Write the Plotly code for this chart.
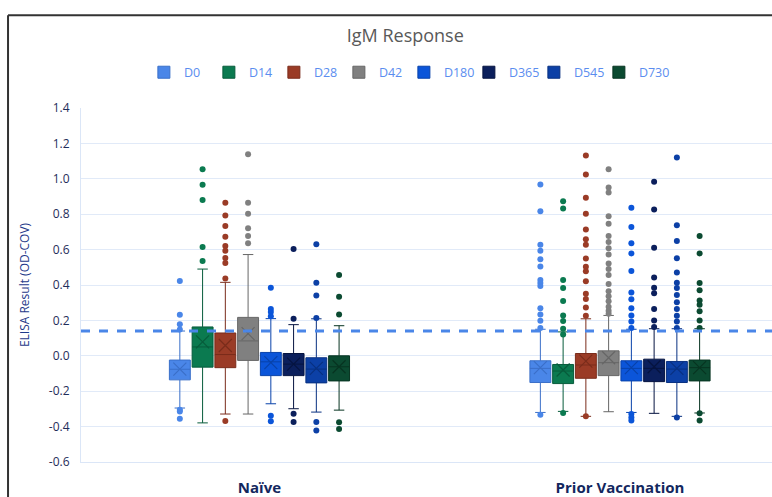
import plotly.graph_objects as go

categories = ["Naïve", "Prior Vaccination"]
series = ["D0", "D14", "D28", "D42", "D180", "D365", "D545", "D730"]
colors = ["#4a86e8", "#0b7a50", "#9a3b26", "#808080", "#0b55d9", "#0b1f5c", "#0c40a6", "#0b4a31"]
dark = ["#3a6fc8", "#075c3b", "#7a2c1b", "#666666", "#0842aa", "#061440", "#083080", "#073421"]

# per series: [Naive, Prior]
q1 = {"D0": [-0.136, -0.151], "D14": [-0.064, -0.157], "D28": [-0.067, -0.127], "D42": [-0.026, -0.112],
      "D180": [-0.112, -0.142], "D365": [-0.112, -0.146], "D545": [-0.153, -0.151], "D730": [-0.142, -0.142]}
med = {"D0": [-0.076, -0.071], "D14": [0.05, -0.086], "D28": [0.007, -0.052], "D42": [0.084, -0.039],
       "D180": [-0.034, -0.071], "D365": [-0.047, -0.071], "D545": [-0.075, -0.075], "D730": [-0.062, -0.067]}
q3 = {"D0": [-0.024, -0.028], "D14": [0.163, -0.049], "D28": [0.129, 0.013], "D42": [0.217, 0.028],
      "D180": [0.019, -0.028], "D365": [0.013, -0.019], "D545": [-0.011, -0.032], "D730": [0.0, -0.024]}
mean = {"D0": [-0.075, -0.067], "D14": [0.079, -0.080], "D28": [0.058, -0.03], "D42": [0.125, -0.011],
        "D180": [-0.039, -0.067], "D365": [-0.047, -0.062], "D545": [-0.071, -0.071], "D730": [-0.062, -0.067]}
lo = {"D0": [-0.295, -0.32], "D14": [-0.379, -0.314], "D28": [-0.329, -0.342], "D42": [-0.329, -0.316],
      "D180": [-0.271, -0.32], "D365": [-0.299, -0.325], "D545": [-0.318, -0.342], "D730": [-0.307, -0.323]}
hi = {"D0": [0.14, 0.15], "D14": [0.49, 0.135], "D28": [0.415, 0.209], "D42": [0.572, 0.228],
      "D180": [0.21, 0.15], "D365": [0.176, 0.153], "D545": [0.209, 0.153], "D730": [0.17, 0.153]}
outliers = {
    "D0": [[0.422, 0.232, 0.178, 0.148, -0.305, -0.314, -0.355],
           [0.968, 0.817, 0.628, 0.593, 0.546, 0.505, 0.428, 0.411, 0.394, 0.269, 0.234, 0.198, 0.157, -0.333]],
    "D14": [[1.054, 0.966, 0.880, 0.615, 0.535],
            [0.873, 0.832, 0.428, 0.383, 0.31, 0.228, 0.196, 0.153, 0.121, -0.323]],
    "D28": [[0.864, 0.793, 0.733, 0.673, 0.621, 0.593, 0.553, 0.525, 0.437, -0.368],
            [1.131, 1.024, 0.893, 0.802, 0.714, 0.658, 0.628, 0.55, 0.503, 0.477, 0.421, 0.35, 0.321, 0.273, 0.226, -0.342]],
    "D42": [[1.138, 0.865, 0.802, 0.72, 0.677, 0.636],
            [1.054, 0.951, 0.923, 0.789, 0.746, 0.677, 0.643, 0.607, 0.572, 0.521, 0.49, 0.456, 0.406, 0.364, 0.336, 0.308, 0.277, 0.254, 0.237]],
    "D180": [[0.385, 0.265, 0.247, 0.224, -0.338, -0.37],
             [0.836, 0.727, 0.636, 0.578, 0.479, 0.357, 0.32, 0.269, 0.228, 0.194, 0.157, -0.329, -0.348, -0.366]],
    "D365": [[0.604, 0.209, -0.327, -0.374],
             [0.983, 0.826, 0.611, 0.443, 0.385, 0.353, 0.264, 0.2, 0.163]],
    "D545": [[0.630, 0.413, 0.34, 0.213, -0.374, -0.422],
             [1.121, 0.738, 0.649, 0.551, 0.471, 0.413, 0.383, 0.344, 0.303, 0.265, 0.226, 0.194, 0.157, -0.348]],
    "D730": [[0.456, 0.333, 0.234, -0.376, -0.413],
             [0.677, 0.578, 0.411, 0.37, 0.312, 0.288, 0.252, 0.2, 0.157, -0.325, -0.366]],
}
threshold = 0.14
ytick_vals = [1.4, 1.2, 1.0, 0.8, 0.6, 0.4, 0.2, 0.0, -0.2, -0.4, -0.6]
ytick_text = ["1.4", "1.2", "1.0", "0.8", "0.6", "0.4", "0.2", "0.0", "-0.2", "-0.4", "-0.6"]

slot = 0.0631
bw = 0.058
n = len(series)

fig = go.Figure()
for i, s in enumerate(series):
    xs = [c + (i - (n - 1) / 2) * slot for c in range(len(categories))]
    fig.add_trace(go.Box(
        x=xs, q1=q1[s], median=med[s], q3=q3[s], lowerfence=lo[s], upperfence=hi[s],
        width=bw, name=s, legendgroup=s, fillcolor=colors[i],
        line=dict(color=dark[i], width=1), whiskerwidth=0.5, boxpoints=False, hoverinfo="skip"))
    ox, oy = [], []
    for c in range(len(categories)):
        for v in outliers[s][c]:
            ox.append(xs[c]); oy.append(v)
    fig.add_trace(go.Scatter(x=ox, y=oy, mode="markers", legendgroup=s, showlegend=False,
                             marker=dict(color=colors[i], size=6), hoverinfo="skip"))
    fig.add_trace(go.Scatter(x=xs, y=mean[s], mode="markers", legendgroup=s, showlegend=False,
                             marker=dict(symbol="x-thin", size=13, line=dict(color=dark[i], width=1.2)),
                             hoverinfo="skip"))

# invisible spacer legend entry so the last label is not clipped
fig.add_trace(go.Scatter(x=[None], y=[None], mode="markers", name=" ", showlegend=True,
                         marker=dict(color="rgba(0,0,0,0)", size=1, line=dict(width=0)),
                         hoverinfo="skip"))

fig.add_shape(type="line", xref="paper", yref="y", x0=0, x1=1, y0=threshold, y1=threshold,
              line=dict(color="#4a86e8", width=3, dash="dash"), layer="above")
# document frame
fig.add_shape(type="line", xref="paper", yref="paper", x0=-0.1056, x1=-0.1056, y0=-0.2, y1=1.262,
              line=dict(color="#333333", width=2))
fig.add_shape(type="line", xref="paper", yref="paper", x0=-0.1056, x1=1.02, y0=1.262, y1=1.262,
              line=dict(color="#333333", width=2))

fig.update_layout(
    width=772, height=497,
    margin=dict(l=81, r=0, t=108, b=33),
    paper_bgcolor="white", plot_bgcolor="white",
    font=dict(family="Open Sans", color="#1f2d5a"),
    title=dict(text="IgM Response", x=0.525, xanchor="center", y=0.928, yanchor="middle",
               font=dict(size=18, color="#595959", family="Open Sans")),
    showlegend=True,
    legend=dict(orientation="h", x=0.091, xanchor="left", y=1.10, yanchor="middle",
                font=dict(size=12.5, color="#5b8def"), itemwidth=30, tracegroupgap=0,
                entrywidth=20, entrywidthmode="pixels", bgcolor="rgba(0,0,0,0)"),
    xaxis=dict(range=[-0.495, 1.4216], tickvals=[0, 1], ticktext=["<b>" + c + "</b>" for c in categories],
               tickfont=dict(size=15, color="#13275e"), showgrid=False, zeroline=False,
               showline=True, linecolor="#dbe6f7", ticks="", ticklabelstandoff=12),
    yaxis=dict(range=[-0.6, 1.4], tickvals=ytick_vals, ticktext=ytick_text,
               tickfont=dict(size=12, color="#1f2d5a"), gridcolor="#e1eaf8", zeroline=False,
               showline=True, linecolor="#dbe6f7", ticklabelstandoff=8,
               title=dict(text="ELISA Result (OD-COV)", font=dict(size=12, color="#1f3a8a"), standoff=16)),
)
fig.write_html("out.html")
